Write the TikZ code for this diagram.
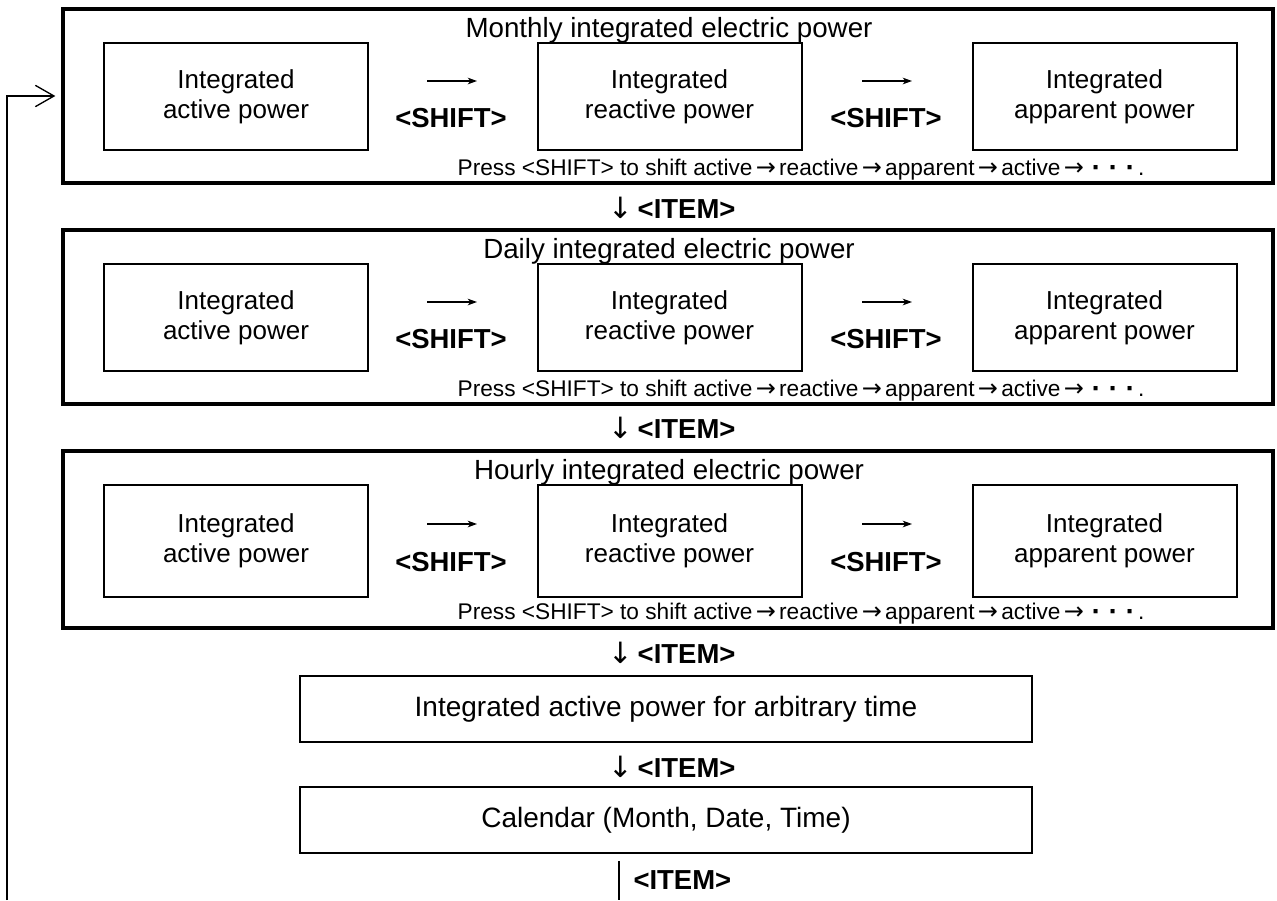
\documentclass[tikz,border=0pt]{standalone}
\usepackage{fontspec}
\setmainfont{Liberation Sans}
\newfontfamily\arrowfont{DejaVu Sans}
\usetikzlibrary{arrows.meta,positioning}
\tikzset{every picture/.style={line width=0.75pt}}
\tikzset{
  outerbox/.style={draw, line width=2.5pt, minimum width=907.5pt, minimum height=130.5pt, inner sep=0pt},
  powerbox/.style={draw, line width=1.5pt, minimum width=198pt, minimum height=80.25pt, align=center, font=\fontsize{19.5}{22.5}\selectfont},
  titletext/.style={inner sep=0pt, anchor=base, font=\fontsize{20.8}{24}\selectfont},
  shifttext/.style={inner sep=0pt, font=\fontsize{20.6}{24}\selectfont\bfseries},
  presstext/.style={inner sep=0pt, anchor=base east, font=\fontsize{17}{20}\selectfont},
  itemtext/.style={inner sep=0pt, font=\fontsize{20.6}{24}\selectfont},
  longbox/.style={draw, line width=1.9pt, minimum width=549pt, minimum height=49.5pt, font=\fontsize{21}{25}\selectfont},
  shiftarrow/.style={-{Stealth[length=7pt,width=5pt,inset=2pt]}, line width=0.9pt},
  loopline/.style={-{Straight Barb[length=14pt,width=16pt]}, line width=1pt}
}
\newcommand{\nx}{\makebox[20pt]{\arrowfont\fontsize{18}{20}\selectfont →}}
\newcommand{\dotdot}{\makebox[12.75pt]{\arrowfont\bfseries ·}}
\newcommand{\pressline}{Press <SHIFT> to shift active\nx reactive\nx apparent\nx active\nx\dotdot\dotdot\dotdot.}
\newcommand{\itemdown}{{\arrowfont\fontsize{22}{24}\selectfont ↓}\,\textbf{<ITEM>}}

\begin{document}
\begin{tikzpicture}[x=0.75pt,y=0.75pt,yscale=-1,xscale=1]
\useasboundingbox (0,0) rectangle (1277,900);

%Shape: Rectangle [monthly]
\node [outerbox] (monthly) at (668,96) {};
% Text Node
\node [titletext] (monthlyt) at (669,37) {Monthly integrated electric power};
\node [powerbox] (mact) at (236,96.5) {Integrated\\active power};
\node [powerbox] (mrea) at (669.5,96.5) {Integrated\\reactive power};
\node [powerbox] (mapp) at (1104.5,96.5) {Integrated\\apparent power};
\node [shifttext] (mshifta) at (451,118) {<SHIFT>};
\node [shifttext] (mshiftb) at (886,118) {<SHIFT>};
\draw [shiftarrow] (mshifta.center) ++(-24,-37) -- ++(50,0);
\draw [shiftarrow] (mshiftb.center) ++(-24,-37) -- ++(50,0);
\node [presstext] (mpress) at (1145,175) {\pressline};

% Text Node
\node [itemtext] (itema) at (672,208) {\itemdown};

%Shape: Rectangle [daily]
\node [outerbox] (daily) at (668,317) {};
% Text Node
\node [titletext] (dailyt) at (669,258) {Daily integrated electric power};
\node [powerbox] (dact) at (236,317.5) {Integrated\\active power};
\node [powerbox] (drea) at (669.5,317.5) {Integrated\\reactive power};
\node [powerbox] (dapp) at (1104.5,317.5) {Integrated\\apparent power};
\node [shifttext] (dshifta) at (451,339) {<SHIFT>};
\node [shifttext] (dshiftb) at (886,339) {<SHIFT>};
\draw [shiftarrow] (dshifta.center) ++(-24,-37) -- ++(50,0);
\draw [shiftarrow] (dshiftb.center) ++(-24,-37) -- ++(50,0);
\node [presstext] (dpress) at (1145,396) {\pressline};

% Text Node
\node [itemtext] (itemb) at (672,428) {\itemdown};

%Shape: Rectangle [hourly]
\node [outerbox, minimum height=132.75pt] (hourly) at (668,539.5) {};
% Text Node
\node [titletext] (hourlyt) at (669,479) {Hourly integrated electric power};
\node [powerbox, minimum height=84pt] (hact) at (236,541) {Integrated\\active power};
\node [powerbox, minimum height=84pt] (hrea) at (669.5,541) {Integrated\\reactive power};
\node [powerbox, minimum height=84pt] (happ) at (1104.5,541) {Integrated\\apparent power};
\node [shifttext] (hshifta) at (451,562) {<SHIFT>};
\node [shifttext] (hshiftb) at (886,562) {<SHIFT>};
\draw [shiftarrow] (hshifta.center) ++(-24,-38) -- ++(50,0);
\draw [shiftarrow] (hshiftb.center) ++(-24,-38) -- ++(50,0);
\node [presstext] (hpress) at (1145,619) {\pressline};

% Text Node
\node [itemtext] (itemc) at (672,653) {\itemdown};

%Shape: Rectangle [arbitrary]
\node [longbox] (arbitrary) at (666,709) {Integrated active power for arbitrary time};
% Text Node
\node [itemtext] (itemd) at (672,767) {\itemdown};
%Shape: Rectangle [calendar]
\node [longbox] (calendar) at (666,820) {Calendar (Month, Date, Time)};

%Straight Lines [back to top]
\coordinate (itemend) at (619,900);
\draw [line width=1pt, shorten <=5pt] (calendar.south -| itemend) -- (itemend);
\node [itemtext, anchor=west, font=\fontsize{20.6}{24}\selectfont\bfseries] (iteme) at (633,880) {<ITEM>};
\coordinate (loopstart) at (7,900);
\draw [loopline, shorten >=4.5pt] (loopstart) |- (monthly.west);

\end{tikzpicture}
\end{document}
